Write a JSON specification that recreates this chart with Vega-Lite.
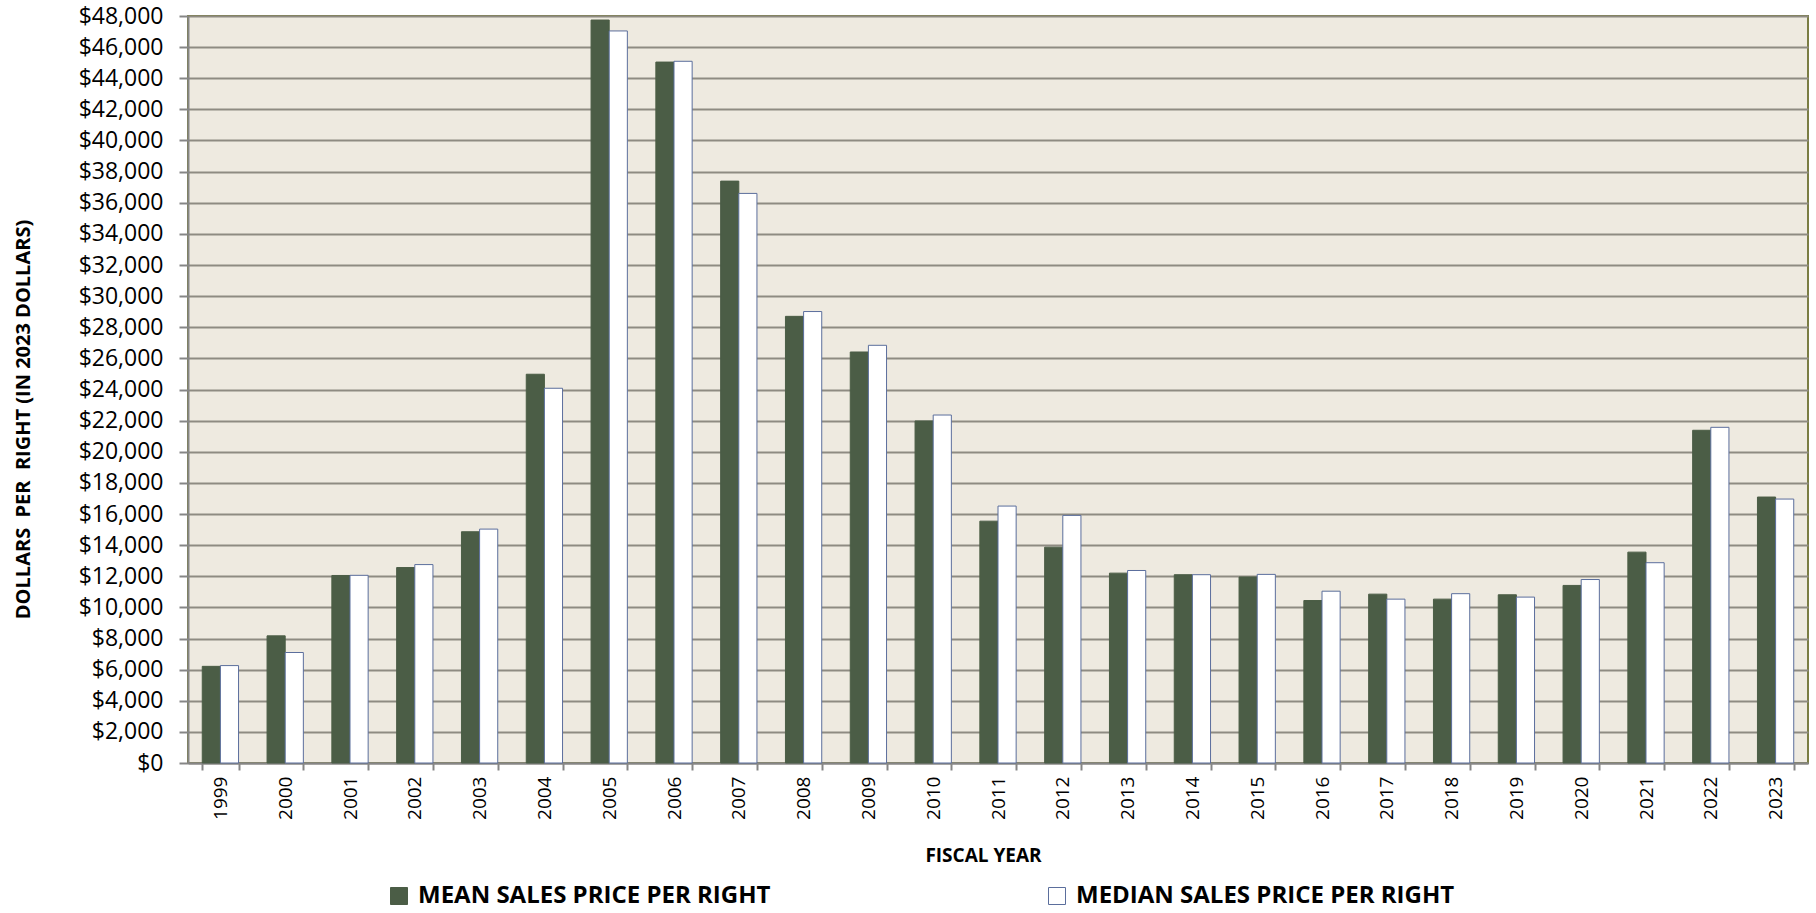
{
  "$schema": "https://vega.github.io/schema/vega-lite/v6.json",
  "width": 1620,
  "height": 747,
  "autosize": {"type": "none"},
  "padding": {"left": 188, "top": 16, "right": 8, "bottom": 150},
  "background": "white",
  "config": {
    "font": "Open Sans",
    "view": {"fill": "#eeeae0", "stroke": "#7a7d43", "strokeWidth": 2}
  },
  "data": {
    "values": [
      {"year": "1999", "series": "MEAN SALES PRICE PER RIGHT", "value": 6210},
      {"year": "1999", "series": "MEDIAN SALES PRICE PER RIGHT", "value": 6260},
      {"year": "2000", "series": "MEAN SALES PRICE PER RIGHT", "value": 8170},
      {"year": "2000", "series": "MEDIAN SALES PRICE PER RIGHT", "value": 7100},
      {"year": "2001", "series": "MEAN SALES PRICE PER RIGHT", "value": 12050},
      {"year": "2001", "series": "MEDIAN SALES PRICE PER RIGHT", "value": 12060},
      {"year": "2002", "series": "MEAN SALES PRICE PER RIGHT", "value": 12560},
      {"year": "2002", "series": "MEDIAN SALES PRICE PER RIGHT", "value": 12750},
      {"year": "2003", "series": "MEAN SALES PRICE PER RIGHT", "value": 14860},
      {"year": "2003", "series": "MEDIAN SALES PRICE PER RIGHT", "value": 15030},
      {"year": "2004", "series": "MEAN SALES PRICE PER RIGHT", "value": 24980},
      {"year": "2004", "series": "MEDIAN SALES PRICE PER RIGHT", "value": 24080},
      {"year": "2005", "series": "MEAN SALES PRICE PER RIGHT", "value": 47740},
      {"year": "2005", "series": "MEDIAN SALES PRICE PER RIGHT", "value": 47040},
      {"year": "2006", "series": "MEAN SALES PRICE PER RIGHT", "value": 45040},
      {"year": "2006", "series": "MEDIAN SALES PRICE PER RIGHT", "value": 45090},
      {"year": "2007", "series": "MEAN SALES PRICE PER RIGHT", "value": 37390},
      {"year": "2007", "series": "MEDIAN SALES PRICE PER RIGHT", "value": 36600},
      {"year": "2008", "series": "MEAN SALES PRICE PER RIGHT", "value": 28700},
      {"year": "2008", "series": "MEDIAN SALES PRICE PER RIGHT", "value": 29010},
      {"year": "2009", "series": "MEAN SALES PRICE PER RIGHT", "value": 26410},
      {"year": "2009", "series": "MEDIAN SALES PRICE PER RIGHT", "value": 26840},
      {"year": "2010", "series": "MEAN SALES PRICE PER RIGHT", "value": 21980},
      {"year": "2010", "series": "MEDIAN SALES PRICE PER RIGHT", "value": 22360},
      {"year": "2011", "series": "MEAN SALES PRICE PER RIGHT", "value": 15540},
      {"year": "2011", "series": "MEDIAN SALES PRICE PER RIGHT", "value": 16510},
      {"year": "2012", "series": "MEAN SALES PRICE PER RIGHT", "value": 13870},
      {"year": "2012", "series": "MEDIAN SALES PRICE PER RIGHT", "value": 15910},
      {"year": "2013", "series": "MEAN SALES PRICE PER RIGHT", "value": 12200},
      {"year": "2013", "series": "MEDIAN SALES PRICE PER RIGHT", "value": 12370},
      {"year": "2014", "series": "MEAN SALES PRICE PER RIGHT", "value": 12100},
      {"year": "2014", "series": "MEDIAN SALES PRICE PER RIGHT", "value": 12100},
      {"year": "2015", "series": "MEAN SALES PRICE PER RIGHT", "value": 11950},
      {"year": "2015", "series": "MEDIAN SALES PRICE PER RIGHT", "value": 12120},
      {"year": "2016", "series": "MEAN SALES PRICE PER RIGHT", "value": 10440},
      {"year": "2016", "series": "MEDIAN SALES PRICE PER RIGHT", "value": 11040},
      {"year": "2017", "series": "MEAN SALES PRICE PER RIGHT", "value": 10850},
      {"year": "2017", "series": "MEDIAN SALES PRICE PER RIGHT", "value": 10530},
      {"year": "2018", "series": "MEAN SALES PRICE PER RIGHT", "value": 10530},
      {"year": "2018", "series": "MEDIAN SALES PRICE PER RIGHT", "value": 10880},
      {"year": "2019", "series": "MEAN SALES PRICE PER RIGHT", "value": 10810},
      {"year": "2019", "series": "MEDIAN SALES PRICE PER RIGHT", "value": 10660},
      {"year": "2020", "series": "MEAN SALES PRICE PER RIGHT", "value": 11410},
      {"year": "2020", "series": "MEDIAN SALES PRICE PER RIGHT", "value": 11790},
      {"year": "2021", "series": "MEAN SALES PRICE PER RIGHT", "value": 13550},
      {"year": "2021", "series": "MEDIAN SALES PRICE PER RIGHT", "value": 12870},
      {"year": "2022", "series": "MEAN SALES PRICE PER RIGHT", "value": 21380},
      {"year": "2022", "series": "MEDIAN SALES PRICE PER RIGHT", "value": 21570},
      {"year": "2023", "series": "MEAN SALES PRICE PER RIGHT", "value": 17090},
      {"year": "2023", "series": "MEDIAN SALES PRICE PER RIGHT", "value": 16960}
    ]
  },
  "mark": {"type": "bar", "strokeWidth": 1},
  "encoding": {
    "x": {
      "field": "year",
      "type": "ordinal",
      "scale": {"paddingInner": 0.44, "paddingOuter": 0.22},
      "axis": {
        "title": "FISCAL YEAR",
        "titleFontSize": 19,
        "titleFontWeight": "bold",
        "titleColor": "#000000",
        "titlePadding": 27,
        "titleX": 795,
        "labelAngle": -90,
        "labelFontSize": 19,
        "labelColor": "#000000",
        "labelPadding": 6,
        "tickBand": "extent",
        "tickSize": 7,
        "tickWidth": 2,
        "tickColor": "#868686",
        "domainColor": "#868686",
        "domainWidth": 2,
        "grid": false
      }
    },
    "xOffset": {
      "field": "series",
      "type": "nominal",
      "scale": {"paddingInner": 0}
    },
    "y": {
      "field": "value",
      "type": "quantitative",
      "scale": {"domain": [0, 48000], "nice": false},
      "axis": {
        "title": "DOLLARS\u00a0 PER\u00a0 RIGHT (IN 2023 DOLLARS)",
        "titleFontSize": 20,
        "titleFontWeight": "bold",
        "titleColor": "#000000",
        "titlePadding": 45,
        "titleY": 403,
        "values": [0, 2000, 4000, 6000, 8000, 10000, 12000, 14000, 16000, 18000, 20000, 22000, 24000, 26000, 28000, 30000, 32000, 34000, 36000, 38000, 40000, 42000, 44000, 46000, 48000],
        "format": "$,.0f",
        "labelFontSize": 23,
        "labelColor": "#000000",
        "labelPadding": 16,
        "tickSize": 9,
        "tickWidth": 2,
        "tickColor": "#868686",
        "domainColor": "#868686",
        "domainWidth": 2,
        "gridColor": "#8e8b82",
        "gridWidth": 2
      }
    },
    "fill": {
      "field": "series",
      "type": "nominal",
      "scale": {"range": ["#4b5d46", "#ffffff"]},
      "legend": {
        "title": null,
        "orient": "none",
        "direction": "horizontal",
        "legendX": 199,
        "legendY": 868,
        "padding": 0,
        "symbolType": "square",
        "symbolSize": 289,
        "symbolStrokeWidth": 1,
        "labelFontSize": 24,
        "labelFontWeight": "bold",
        "labelColor": "#000000",
        "labelOffset": 7,
        "labelLimit": 1000,
        "columnPadding": 274
      }
    },
    "stroke": {
      "field": "series",
      "type": "nominal",
      "scale": {"range": ["#4b5d46", "#5b6e9c"]}
    }
  }
}
